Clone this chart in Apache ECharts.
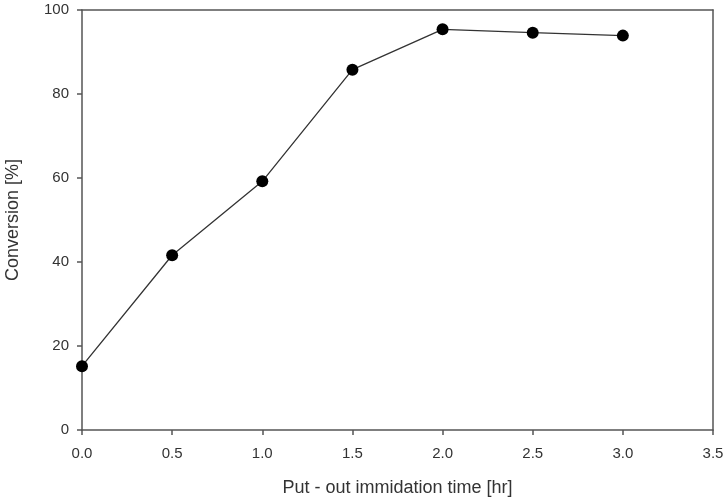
<!DOCTYPE html>
<html>
<head>
<meta charset="utf-8">
<script src="https://cdn.jsdelivr.net/npm/echarts@6/dist/echarts.min.js"></script>
<style>
html, body { margin: 0; padding: 0; background: #fff; }
#chartmain { width: 725px; height: 498px; }
</style>
</head>
<body>
<div id="chartmain"></div>
<script>
var timeHr = [0.0, 0.5, 1.0, 1.5, 2.0, 2.5, 3.0];
var conversion = [15.2, 41.6, 59.2, 85.8, 95.4, 94.6, 93.9];
var xTicks = [0.0, 0.5, 1.0, 1.5, 2.0, 2.5, 3.0, 3.5];
var yTicks = [0, 20, 40, 60, 80, 100];

var points = [];
for (var i = 0; i < timeHr.length; i++) {
    points.push([timeHr[i], conversion[i]]);
}

var labelFont = { fontFamily: 'Liberation Sans', fontSize: 15, color: '#333' };
var axisLine = { show: true, onZero: false, lineStyle: { color: '#555', width: 1.5 } };

var option = {
    animation: false,
    grid: { left: 82, right: 12, top: 10, bottom: 68, show: false, containLabel: false, outerBoundsMode: 'none' },
    xAxis: [{
        type: 'value',
        min: 0, max: 3.5, interval: 0.5,
        name: 'Put - out immidation time [hr]',
        nameLocation: 'middle',
        nameGap: 49,
        nameTextStyle: { fontFamily: 'Liberation Sans', fontSize: 18, color: '#333' },
        axisLine: axisLine,
        axisTick: { show: true, inside: false, length: 5, lineStyle: { color: '#555', width: 1.5 } },
        axisLabel: Object.assign({ margin: 16, formatter: function(v) { return v.toFixed(1); } }, labelFont),
        splitLine: { show: false }
    }, {
        type: 'value',
        position: 'top',
        min: 0, max: 3.5,
        axisLine: axisLine,
        axisTick: { show: false },
        axisLabel: { show: false },
        splitLine: { show: false }
    }],
    yAxis: [{
        type: 'value',
        min: 0, max: 100, interval: 20,
        name: 'Conversion [%]',
        nameLocation: 'middle',
        nameGap: 60,
        nameTextStyle: { fontFamily: 'Liberation Sans', fontSize: 18, color: '#333' },
        axisLine: axisLine,
        axisTick: { show: true, inside: false, length: 5, lineStyle: { color: '#555', width: 1.5 } },
        axisLabel: Object.assign({ margin: 13 }, labelFont),
        splitLine: { show: false }
    }, {
        type: 'value',
        position: 'right',
        min: 0, max: 100,
        axisLine: axisLine,
        axisTick: { show: false },
        axisLabel: { show: false },
        splitLine: { show: false }
    }],
    series: [{
        type: 'line',
        data: points,
        symbol: 'circle',
        symbolSize: 12,
        itemStyle: { color: '#000' },
        lineStyle: { color: '#333', width: 1.3 }
    }]
};

var myChart = echarts.init(document.getElementById('chartmain'));
myChart.setOption(option);
</script>
</body>
</html>
